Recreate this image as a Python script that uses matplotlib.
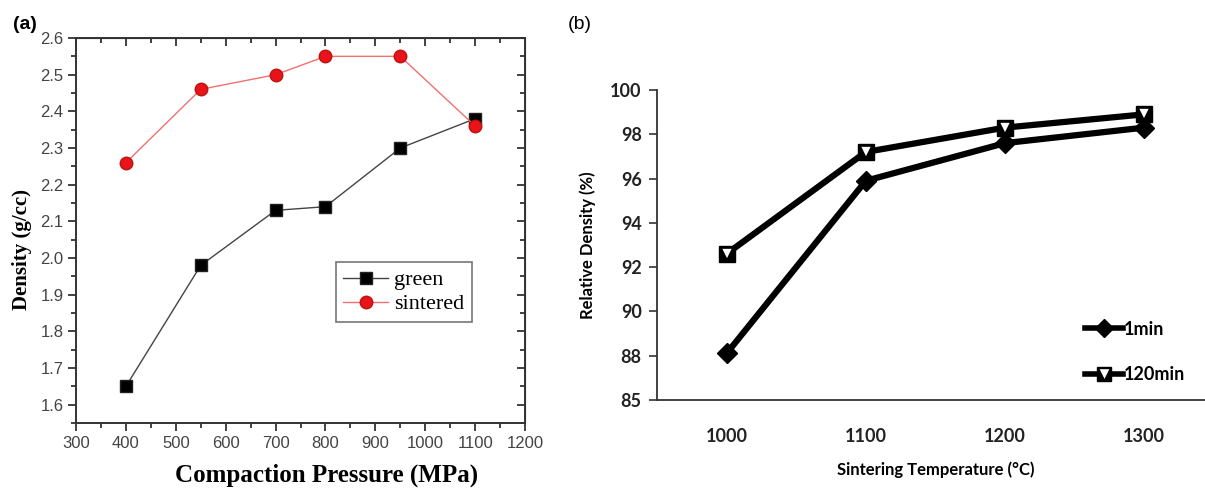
import matplotlib
matplotlib.use("Agg")
import matplotlib.pyplot as plt
from matplotlib.ticker import MultipleLocator
from matplotlib.legend_handler import HandlerTuple
from matplotlib.lines import Line2D

# ---- Panel (a) data ----
pressure = [400, 550, 700, 800, 950, 1100]
green = [1.65, 1.98, 2.13, 2.14, 2.30, 2.38]
sintered = [2.26, 2.46, 2.50, 2.55, 2.55, 2.36]
a_yticks = [1.6, 1.7, 1.8, 1.9, 2.0, 2.1, 2.2, 2.3, 2.4, 2.5, 2.6]
a_yticklabels = ["1.6", "1.7", "1.8", "1.9", "2.0", "2.1", "2.2", "2.3",
                 "2.4", "2.5", "2.6"]

# ---- Panel (b) data ----
temps = ["1000", "1100", "1200", "1300"]
rd_1min = [88.1, 95.9, 97.6, 98.3]
rd_120min = [92.6, 97.2, 98.3, 98.9]
b_yticks = [86, 88, 90, 92, 94, 96, 98, 100]
b_yticklabels = ["85", "88", "90", "92", "94", "96", "98", "100"]

fig = plt.figure(figsize=(12.05, 4.9), dpi=100)

# ================= Panel (a) =================
axa = fig.add_axes([0.0631, 0.1367, 0.3726, 0.7857])
axa.plot(pressure, green, color="#444444", lw=1.0, marker="s", ms=8,
         mfc="black", mec="#222222", label="green")
axa.plot(pressure, sintered, color="#f07070", lw=1.0, marker="o", ms=9,
         mfc="#e8141a", mec="#c01010", label="sintered")
axa.set_xlim(300, 1200)
axa.set_ylim(1.55, 2.6)
axa.xaxis.set_major_locator(MultipleLocator(100))
axa.xaxis.set_minor_locator(MultipleLocator(50))
axa.yaxis.set_minor_locator(MultipleLocator(0.05))
axa.set_yticks(a_yticks)
axa.set_yticklabels(a_yticklabels)
axa.tick_params(which="both", direction="out", colors="#333333",
                labelcolor="#444444", labelsize=12, width=1.3, pad=3)
axa.tick_params(which="major", length=6)
axa.tick_params(which="minor", length=3.5)
for lab in axa.get_xticklabels() + axa.get_yticklabels():
    lab.set_family("Liberation Sans")
for sp in axa.spines.values():
    sp.set_linewidth(1.4)
    sp.set_color("#333333")
# inward ticks on top/right
sx = axa.secondary_xaxis("top")
sx.xaxis.set_major_locator(MultipleLocator(100))
sx.xaxis.set_minor_locator(MultipleLocator(50))
sx.tick_params(which="both", direction="in", labeltop=False, colors="#333333", width=1.3)
sx.tick_params(which="major", length=6)
sx.tick_params(which="minor", length=3.5)
sy = axa.secondary_yaxis("right")
sy.yaxis.set_major_locator(MultipleLocator(0.1))
sy.yaxis.set_minor_locator(MultipleLocator(0.05))
sy.tick_params(which="both", direction="in", labelright=False, colors="#333333", width=1.3)
sy.tick_params(which="major", length=6)
sy.tick_params(which="minor", length=3.5)

axa.set_xlabel("Compaction Pressure (MPa)", family="Liberation Serif",
               fontweight="bold", fontsize=18)
axa.xaxis.set_label_coords(0.559, -0.105)
axa.set_ylabel("Density (g/cc)", family="Liberation Serif",
               fontweight="bold", fontsize=15)
axa.yaxis.set_label_coords(-0.098, 0.45)
leg = axa.legend(loc="upper left", bbox_to_anchor=(0.578, 0.418),
                 prop={"family": "Liberation Serif", "size": 16},
                 frameon=True, fancybox=False, edgecolor="#555555",
                 handlelength=2.0, handletextpad=0.3, borderpad=0.35,
                 labelspacing=0.15, borderaxespad=0)
leg.get_frame().set_linewidth(1.2)
fig.text(0.011, 0.95, "(a)", fontsize=14, family="Liberation Sans",
         fontweight="bold", va="center")

# ================= Panel (b) =================
axb = fig.add_axes([0.5452, 0.1837, 0.4622, 0.6327])
xb = [i + 0.5 for i in range(len(temps))]
axb.plot(xb, rd_1min, color="black", lw=4.5, marker="D", ms=10,
         mfc="black", mec="black", zorder=3)
axb.plot(xb, rd_120min, color="black", lw=4.5, marker="s", ms=11,
         mfc="black", mec="black", zorder=3)
axb.plot(xb, rd_120min, ls="none", marker="v", ms=9, mfc="white",
         mec="black", mew=1.2, zorder=4)
axb.set_xlim(0, 4)
axb.set_ylim(86, 100)
axb.set_xticks(xb)
axb.set_xticklabels(temps)
axb.set_yticks(b_yticks)
axb.set_yticklabels(b_yticklabels)
for sp in ["top", "right"]:
    axb.spines[sp].set_visible(False)
for sp in ["left", "bottom"]:
    axb.spines[sp].set_linewidth(1.3)
    axb.spines[sp].set_color("#333333")
axb.tick_params(axis="x", length=0, pad=20, labelsize=13)
axb.tick_params(axis="y", direction="out", length=6, width=1.2, labelsize=13,
                pad=5, colors="#333333")
for lab in axb.get_xticklabels() + axb.get_yticklabels():
    lab.set_family("Lato")
    lab.set_fontweight("bold")
    lab.set_color("#222222")
axb.set_xlabel("Sintering Temperature (°C)", family="Lato", fontweight="bold",
               fontsize=12, labelpad=12)
axb.set_ylabel("Relative Density (%)", family="Lato", fontweight="bold",
               fontsize=12, labelpad=10)

h1 = Line2D([], [], color="black", lw=4.0, marker="D", ms=9, mfc="black", mec="black")
h2a = Line2D([], [], color="black", lw=4.0, marker="s", ms=10, mfc="black", mec="black")
h2b = Line2D([], [], ls="none", marker="v", ms=8, mfc="white", mec="black", mew=1.0)
legb = axb.legend([h1, (h2a, h2b)], ["1min", "120min"],
                  handler_map={tuple: HandlerTuple(ndivide=1, pad=0)},
                  loc="lower left", bbox_to_anchor=(0.755, 0.03),
                  frameon=False, prop={"family": "Lato", "weight": "bold", "size": 13},
                  handlelength=2.1, handletextpad=0.05, labelspacing=1.6,
                  borderaxespad=0)

fig.text(0.471, 0.95, "(b)", fontsize=14, family="Liberation Sans",
         va="center")

fig.savefig("out.png", dpi=100)
